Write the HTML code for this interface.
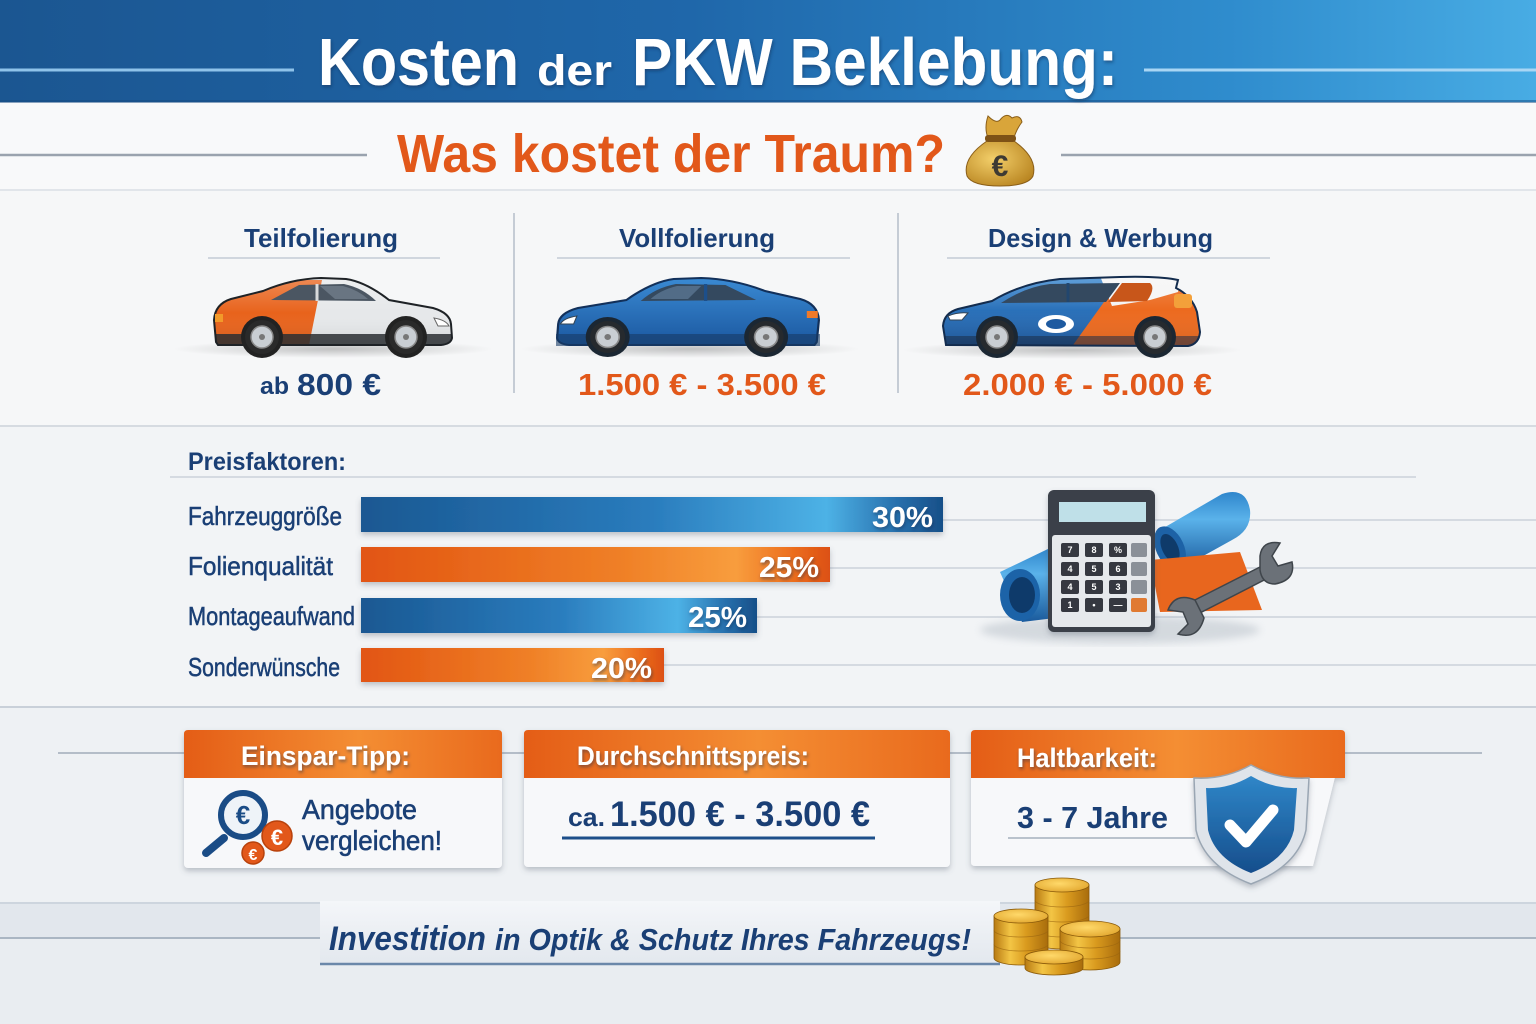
<!DOCTYPE html>
<html><head><meta charset="utf-8">
<style>html,body{margin:0;padding:0;background:#f1f3f6;}svg{display:block}</style>
</head><body>
<svg width="1536" height="1024" viewBox="0 0 1536 1024" xmlns="http://www.w3.org/2000/svg" font-family="'Liberation Sans', sans-serif">
<defs>
<linearGradient id="hdr" x1="0" y1="0" x2="1" y2="0">
 <stop offset="0" stop-color="#1b5691"/><stop offset="0.45" stop-color="#1f67aa"/>
 <stop offset="0.8" stop-color="#2f8ccd"/><stop offset="1" stop-color="#48ace4"/>
</linearGradient>
<linearGradient id="bgv" x1="0" y1="0" x2="0" y2="1">
 <stop offset="0" stop-color="#f7f8fa"/><stop offset="1" stop-color="#eceff3"/>
</linearGradient>
<linearGradient id="bb" x1="0" y1="0" x2="1" y2="0">
 <stop offset="0" stop-color="#1a5892"/><stop offset="0.5" stop-color="#2a7cbd"/>
 <stop offset="0.8" stop-color="#4db2e6"/><stop offset="0.92" stop-color="#2870ad"/>
 <stop offset="1" stop-color="#174f88"/>
</linearGradient>
<linearGradient id="ob" x1="0" y1="0" x2="1" y2="0">
 <stop offset="0" stop-color="#e25512"/><stop offset="0.55" stop-color="#ef7f26"/>
 <stop offset="0.8" stop-color="#f89d3d"/><stop offset="0.92" stop-color="#ec6e1f"/>
 <stop offset="1" stop-color="#dc5012"/>
</linearGradient>
<linearGradient id="oh" x1="0" y1="0" x2="1" y2="0">
 <stop offset="0" stop-color="#e45d16"/><stop offset="0.55" stop-color="#f48e33"/>
 <stop offset="1" stop-color="#e96a1d"/>
</linearGradient>
<linearGradient id="shine" x1="0" y1="0" x2="0" y2="1">
 <stop offset="0" stop-color="#fff" stop-opacity="0.25"/><stop offset="0.5" stop-color="#fff" stop-opacity="0"/>
 <stop offset="1" stop-color="#000" stop-opacity="0.12"/>
</linearGradient>
<linearGradient id="carblue" x1="0" y1="0" x2="0" y2="1">
 <stop offset="0" stop-color="#3a8ad3"/><stop offset="1" stop-color="#1b58a0"/>
</linearGradient>
<linearGradient id="gold" x1="0" y1="0" x2="1" y2="0">
 <stop offset="0" stop-color="#b87a12"/><stop offset="0.3" stop-color="#f3c545"/>
 <stop offset="0.6" stop-color="#d99a1e"/><stop offset="1" stop-color="#a86c0c"/>
</linearGradient>
<radialGradient id="goldtop" cx="0.45" cy="0.4" r="0.7">
 <stop offset="0" stop-color="#ffd96a"/><stop offset="1" stop-color="#e0a32a"/>
</radialGradient>
<radialGradient id="bag" cx="0.4" cy="0.4" r="0.7">
 <stop offset="0" stop-color="#f3cf6a"/><stop offset="1" stop-color="#b88420"/>
</radialGradient>
<radialGradient id="carsh" cx="0.5" cy="0.5" r="0.5">
 <stop offset="0" stop-color="#000" stop-opacity="0.22"/><stop offset="1" stop-color="#000" stop-opacity="0"/>
</radialGradient>
<linearGradient id="shieldb" x1="0" y1="0" x2="0" y2="1">
 <stop offset="0" stop-color="#2f86c8"/><stop offset="1" stop-color="#164e8c"/>
</linearGradient>
<linearGradient id="roll" x1="0" y1="0" x2="0" y2="1">
 <stop offset="0" stop-color="#2f86cc"/><stop offset="0.35" stop-color="#5ab2ea"/><stop offset="1" stop-color="#1a5a9c"/>
</linearGradient>
<linearGradient id="banner" x1="0" y1="0" x2="0" y2="1">
 <stop offset="0" stop-color="#f4f6f9"/><stop offset="1" stop-color="#e3e8ee"/>
</linearGradient>
<filter id="ds" x="-10%" y="-10%" width="120%" height="130%">
 <feDropShadow dx="0" dy="3" stdDeviation="3" flood-color="#536070" flood-opacity="0.35"/>
</filter>
<filter id="ts" x="-5%" y="-20%" width="110%" height="150%">
 <feDropShadow dx="1" dy="2" stdDeviation="1.5" flood-color="#0a2a50" flood-opacity="0.5"/>
</filter>
<filter id="blur4"><feGaussianBlur stdDeviation="4"/></filter>
<clipPath id="c1"><path d="M216,342 L214,320 Q215,304 231,299 L263,291 Q291,279 321,278 L346,279 Q366,282 389,300 L433,308 Q450,313 451,324 L452,338 Q451,344 441,345 L218,345 Z"/></clipPath>
<clipPath id="c3"><path d="M946,345 L943,326 Q944,313 958,309 L992,301 Q1022,283 1060,279 L1120,277 Q1160,276 1178,280 L1176,288 Q1192,296 1197,312 L1200,332 Q1199,344 1188,346 Z"/></clipPath>
</defs>

<!-- backgrounds -->
<rect width="1536" height="1024" fill="url(#bgv)"/>
<rect y="102" width="1536" height="88" fill="#f8f9fa"/>
<rect y="190" width="1536" height="236" fill="#f6f7f8"/>
<rect y="426" width="1536" height="281" fill="#f2f4f6"/>
<rect y="707" width="1536" height="196" fill="#eef1f4"/>
<rect y="903" width="1536" height="35" fill="#e2e7ed"/>
<rect y="938" width="1536" height="86" fill="#e9edf1"/>
<line x1="0" y1="903" x2="1536" y2="903" stroke="#cdd5de" stroke-width="2"/>
<line x1="0" y1="938" x2="1536" y2="938" stroke="#aab6c3" stroke-width="2"/>

<!-- header -->
<rect width="1536" height="102" fill="url(#hdr)"/>
<rect y="100" width="1536" height="3" fill="#164a80" opacity="0.5"/>
<line x1="0" y1="70" x2="294" y2="70" stroke="#8fc3ea" stroke-width="3"/>
<line x1="1144" y1="70" x2="1536" y2="70" stroke="#a9d6f4" stroke-width="3"/>
<g fill="#fff" font-weight="bold" filter="url(#ts)">
<text x="318" y="85" font-size="67" textLength="201" lengthAdjust="spacingAndGlyphs">Kosten</text>
<text x="537" y="85" font-size="43" textLength="75" lengthAdjust="spacingAndGlyphs">der</text>
<text x="632" y="85" font-size="67" textLength="486" lengthAdjust="spacingAndGlyphs">PKW Beklebung:</text>
</g>

<!-- subtitle -->
<line x1="0" y1="155" x2="367" y2="155" stroke="#9aa3ae" stroke-width="2.5"/>
<line x1="1061" y1="155" x2="1536" y2="155" stroke="#9aa3ae" stroke-width="2.5"/>
<text x="397" y="172" font-size="54" font-weight="bold" fill="#e2581a" textLength="548" lengthAdjust="spacingAndGlyphs">Was kostet der Traum?</text>
<!-- money bag -->
<g>
 <path d="M988,116 Q996,124 1000,120 Q1006,112 1012,118 Q1020,114 1022,122 Q1016,130 1014,138 L988,138 Q984,128 988,116 Z" fill="#d9a53a" stroke="#8a5e18" stroke-width="1"/>
 <path d="M987,141 Q962,158 967,176 Q972,186 1000,186 Q1028,186 1033,176 Q1038,158 1014,141 Z" fill="url(#bag)" stroke="#8a5e18" stroke-width="1"/>
 <rect x="985" y="135" width="31" height="7" rx="3" fill="#7e5216"/>
 <text x="1000" y="176" font-size="30" font-weight="bold" fill="#3d3a33" text-anchor="middle">€</text>
</g>
<line x1="0" y1="190" x2="1536" y2="190" stroke="#e1e5ea" stroke-width="2"/>

<!-- column headers -->
<g font-weight="bold" fill="#1a3f75" font-size="26">
<text x="244" y="247" textLength="154" lengthAdjust="spacingAndGlyphs">Teilfolierung</text>
<text x="619" y="247" textLength="156" lengthAdjust="spacingAndGlyphs">Vollfolierung</text>
<text x="988" y="247" textLength="225" lengthAdjust="spacingAndGlyphs">Design &amp; Werbung</text>
</g>
<g stroke="#d0d6de" stroke-width="2">
<line x1="208" y1="258" x2="440" y2="258"/>
<line x1="557" y1="258" x2="850" y2="258"/>
<line x1="947" y1="258" x2="1270" y2="258"/>
</g>
<line x1="514" y1="213" x2="514" y2="393" stroke="#c5ccd5" stroke-width="2"/>
<line x1="898" y1="213" x2="898" y2="393" stroke="#c5ccd5" stroke-width="2"/>

<!-- car 1 -->
<ellipse cx="333" cy="349" rx="160" ry="9" fill="url(#carsh)"/>
<g>
 <path d="M216,342 L214,320 Q215,304 231,299 L263,291 Q291,279 321,278 L346,279 Q366,282 389,300 L433,308 Q450,313 451,324 L452,338 Q451,344 441,345 L218,345 Z" fill="#e6e8ea"/>
 <g clip-path="url(#c1)">
  <polygon points="200,280 322,280 308,350 200,350" fill="#e8631c"/>
  <rect x="200" y="278" width="260" height="70" fill="url(#shine)"/>
  <rect x="200" y="334" width="260" height="14" fill="#2c2f33" opacity="0.85"/>
 </g>
 <path d="M216,342 L214,320 Q215,304 231,299 L263,291 Q291,279 321,278 L346,279 Q366,282 389,300 L433,308 Q450,313 451,324 L452,338 Q451,344 441,345 L218,345 Z" fill="none" stroke="#1e2226" stroke-width="2"/>
 <path d="M271,300 L299,285 L344,284 Q363,288 376,301 Z" fill="#4b5662"/>
 <line x1="317" y1="284" x2="317" y2="301" stroke="#d8dadc" stroke-width="3"/>
 <path d="M320,286 L343,286 Q358,290 368,299 L335,299 Z" fill="#7d8b98" opacity="0.6"/>
 <path d="M434,318 Q446,320 449,326 L438,326 Z" fill="#fff" stroke="#666" stroke-width="1"/>
 <rect x="215" y="314" width="8" height="8" fill="#f29a2a"/>
 <g>
  <circle cx="262" cy="337" r="21" fill="#222"/><circle cx="262" cy="337" r="17" fill="#2a2a2a"/>
  <circle cx="262" cy="337" r="11" fill="#c9ced3" stroke="#888" stroke-width="1.5"/><circle cx="262" cy="337" r="3" fill="#777"/>
  <circle cx="406" cy="337" r="21" fill="#222"/><circle cx="406" cy="337" r="17" fill="#2a2a2a"/>
  <circle cx="406" cy="337" r="11" fill="#c9ced3" stroke="#888" stroke-width="1.5"/><circle cx="406" cy="337" r="3" fill="#777"/>
 </g>
</g>

<!-- car 2 -->
<ellipse cx="690" cy="349" rx="170" ry="9" fill="url(#carsh)"/>
<g transform="translate(820,278) scale(-1.1,1)">
 <path d="M3,64 L1,42 Q2,26 18,21 L50,13 Q78,1 108,0 L133,1 Q153,4 176,22 L220,30 Q237,35 238,46 L239,60 Q238,66 228,67 L5,67 Z" fill="url(#carblue)" stroke="#12305a" stroke-width="2"/>
 <path d="M58,22 L86,7 L131,6 Q150,10 163,23 Z" fill="#34495f"/>
 <line x1="104" y1="6" x2="104" y2="23" stroke="#1d4f8a" stroke-width="3"/>
 <path d="M108,8 L130,8 Q145,12 154,21 L120,21 Z" fill="#6f8fb0" opacity="0.5"/>
 <path d="M221,38 Q233,40 236,46 L224,46 Z" fill="#fff" stroke="#345" stroke-width="1"/>
 <rect x="2" y="33" width="10" height="7" fill="#f07a2a"/>
 <rect x="0" y="56" width="240" height="12" fill="#173a66" opacity="0.6"/>
 <circle cx="49" cy="59" r="20" fill="#1b2733"/><circle cx="49" cy="59" r="16" fill="#262a2e"/>
 <circle cx="49" cy="59" r="10.5" fill="#c9ced3" stroke="#888" stroke-width="1.5"/><circle cx="49" cy="59" r="3" fill="#777"/>
 <circle cx="193" cy="59" r="20" fill="#1b2733"/><circle cx="193" cy="59" r="16" fill="#262a2e"/>
 <circle cx="193" cy="59" r="10.5" fill="#c9ced3" stroke="#888" stroke-width="1.5"/><circle cx="193" cy="59" r="3" fill="#777"/>
</g>

<!-- car 3 -->
<ellipse cx="1072" cy="350" rx="170" ry="9" fill="url(#carsh)"/>
<g>
 <g clip-path="url(#c3)">
  <rect x="940" y="270" width="270" height="80" fill="url(#carblue)"/>
  <polygon points="1127,270 1212,270 1212,352 1068,352" fill="#ec6a1f"/>
  <polygon points="1100,276 1182,276 1178,292 1150,300 1112,306" fill="#f5f5f5"/>
  <rect x="940" y="270" width="270" height="80" fill="url(#shine)"/>
  <rect x="940" y="336" width="270" height="14" fill="#1c2e48" opacity="0.55"/>
 </g>
 <path d="M946,345 L943,326 Q944,313 958,309 L992,301 Q1022,283 1060,279 L1120,277 Q1160,276 1178,280 L1176,288 Q1192,296 1197,312 L1200,332 Q1199,344 1188,346 Z" fill="none" stroke="#132c4e" stroke-width="2"/>
 <path d="M1001,303 Q1025,287 1050,284 L1120,283 L1106,302 Z" fill="#34495f"/>
 <path d="M1122,283 L1150,283 Q1156,288 1147,301 L1108,302 Z" fill="#c8561a"/>
 <line x1="1068" y1="283" x2="1068" y2="302" stroke="#22466e" stroke-width="3"/>
 <path d="M948,316 Q958,312 968,313 L962,320 L950,320 Z" fill="#fff" stroke="#345" stroke-width="1"/>
 <rect x="1174" y="294" width="18" height="14" rx="3" fill="#f3a03a"/>
 <ellipse cx="1056" cy="324" rx="18" ry="9" fill="#fff"/>
 <ellipse cx="1056" cy="324" rx="10" ry="5" fill="#1e5aa0"/>
 <circle cx="997" cy="337" r="21" fill="#1b2733"/><circle cx="997" cy="337" r="17" fill="#262a2e"/>
 <circle cx="997" cy="337" r="11" fill="#c9ced3" stroke="#888" stroke-width="1.5"/><circle cx="997" cy="337" r="3" fill="#777"/>
 <circle cx="1155" cy="337" r="21" fill="#1b2733"/><circle cx="1155" cy="337" r="17" fill="#262a2e"/>
 <circle cx="1155" cy="337" r="11" fill="#c9ced3" stroke="#888" stroke-width="1.5"/><circle cx="1155" cy="337" r="3" fill="#777"/>
</g>

<!-- prices -->
<g font-weight="bold">
<text x="260" y="394" font-size="24" fill="#1a3f75" textLength="29" lengthAdjust="spacingAndGlyphs">ab</text>
<text x="297" y="395" font-size="31" fill="#1a3f75" textLength="84" lengthAdjust="spacingAndGlyphs">800 €</text>
<text x="578" y="395" font-size="31" fill="#e2581a" textLength="248" lengthAdjust="spacingAndGlyphs">1.500 € - 3.500 €</text>
<text x="963" y="395" font-size="31" fill="#e2581a" textLength="249" lengthAdjust="spacingAndGlyphs">2.000 € - 5.000 €</text>
</g>
<line x1="0" y1="426" x2="1536" y2="426" stroke="#d6dbe1" stroke-width="2"/>

<!-- Preisfaktoren -->
<text x="188" y="470" font-size="25" font-weight="bold" fill="#1a3f75" textLength="158" lengthAdjust="spacingAndGlyphs">Preisfaktoren:</text>
<g stroke="#d5dae1" stroke-width="2">
<line x1="170" y1="477" x2="1416" y2="477"/>
<line x1="943" y1="520" x2="1536" y2="520"/>
<line x1="830" y1="568" x2="1536" y2="568"/>
<line x1="757" y1="617" x2="1536" y2="617"/>
<line x1="664" y1="665" x2="1536" y2="665"/>
<line x1="0" y1="707" x2="1536" y2="707" stroke="#c9d0d9"/>
</g>
<g fill="#1a3f75" font-size="26" stroke="#1a3f75" stroke-width="0.5">
<text x="188" y="525" textLength="154" lengthAdjust="spacingAndGlyphs">Fahrzeuggröße</text>
<text x="188" y="575" textLength="145" lengthAdjust="spacingAndGlyphs">Folienqualität</text>
<text x="188" y="625" textLength="167" lengthAdjust="spacingAndGlyphs">Montageaufwand</text>
<text x="188" y="676" textLength="152" lengthAdjust="spacingAndGlyphs">Sonderwünsche</text>
</g>
<g filter="url(#ds)">
<rect x="361" y="497" width="582" height="35" fill="url(#bb)"/>
<rect x="361" y="547" width="469" height="35" fill="url(#ob)"/>
<rect x="361" y="598" width="396" height="35" fill="url(#bb)"/>
<rect x="361" y="648" width="303" height="34" fill="url(#ob)"/>
</g>
<g fill="#fff" font-weight="bold" font-size="29" filter="url(#ts)">
<text x="872" y="527" textLength="61" lengthAdjust="spacingAndGlyphs">30%</text>
<text x="759" y="577" textLength="60" lengthAdjust="spacingAndGlyphs">25%</text>
<text x="688" y="627" textLength="59" lengthAdjust="spacingAndGlyphs">25%</text>
<text x="591" y="678" textLength="61" lengthAdjust="spacingAndGlyphs">20%</text>
</g>

<!-- tools icon -->
<ellipse cx="1120" cy="630" rx="140" ry="14" fill="#7c8a99" opacity="0.25" filter="url(#blur4)"/>
<!-- right roll -->
<g>
 <path d="M1160,530 L1222,494 Q1246,486 1250,510 Q1252,530 1232,540 L1178,570 Z" fill="url(#roll)"/>
 <ellipse cx="1170" cy="548" rx="14" ry="23" fill="#1d62a6" transform="rotate(-25 1170 548)"/>
 <ellipse cx="1170" cy="548" rx="8" ry="15" fill="#0f3b6a" transform="rotate(-25 1170 548)"/>
</g>
<!-- orange sheet -->
<polygon points="1150,560 1240,552 1262,610 1160,612" fill="#e8661e"/>
<!-- left roll -->
<g>
 <path d="M1000,572 L1050,548 L1055,618 L1022,622 Z" fill="url(#roll)"/>
 <ellipse cx="1020" cy="595" rx="20" ry="26" fill="#1c63a8"/>
 <ellipse cx="1022" cy="595" rx="13" ry="18" fill="#0e3a6a"/>
</g>
<!-- calculator -->
<g filter="url(#ds)">
 <rect x="1048" y="490" width="107" height="142" rx="6" fill="#3a4048"/>
 <rect x="1052" y="535" width="99" height="92" rx="3" fill="#e6e9ec"/>
 <rect x="1059" y="502" width="87" height="20" fill="#bfe0e8"/>
 <g fill="#34393f">
  <rect x="1061" y="543" width="18" height="14" rx="2"/><rect x="1085" y="543" width="18" height="14" rx="2"/><rect x="1109" y="543" width="18" height="14" rx="2"/><rect x="1131" y="543" width="16" height="14" rx="2" fill="#8a9098"/>
  <rect x="1061" y="562" width="18" height="14" rx="2"/><rect x="1085" y="562" width="18" height="14" rx="2"/><rect x="1109" y="562" width="18" height="14" rx="2"/><rect x="1131" y="562" width="16" height="14" rx="2" fill="#8a9098"/>
  <rect x="1061" y="580" width="18" height="14" rx="2"/><rect x="1085" y="580" width="18" height="14" rx="2"/><rect x="1109" y="580" width="18" height="14" rx="2"/><rect x="1131" y="580" width="16" height="14" rx="2" fill="#8a9098"/>
  <rect x="1061" y="598" width="18" height="14" rx="2"/><rect x="1085" y="598" width="18" height="14" rx="2"/><rect x="1109" y="598" width="18" height="14" rx="2"/><rect x="1131" y="598" width="16" height="14" rx="2" fill="#e07a30"/>
 </g>
 <g fill="#fff" font-size="9" font-weight="bold" text-anchor="middle">
  <text x="1070" y="553">7</text><text x="1094" y="553">8</text><text x="1118" y="553">%</text>
  <text x="1070" y="572">4</text><text x="1094" y="572">5</text><text x="1118" y="572">6</text>
  <text x="1070" y="590">4</text><text x="1094" y="590">5</text><text x="1118" y="590">3</text>
  <text x="1070" y="608">1</text><text x="1094" y="608">•</text><text x="1118" y="608">—</text>
 </g>
</g>
<!-- wrench -->
<g fill="#6b7178" stroke="#3f454b" stroke-width="1.5">
 <path d="M1185,605 L1262,566 L1268,578 L1192,617 Z"/>
 <path d="M1260,556 Q1262,540 1280,543 L1272,556 L1278,566 L1292,562 Q1296,580 1275,584 Q1262,584 1260,570 Z"/>
 <path d="M1195,600 Q1175,592 1168,610 L1183,612 L1188,624 L1178,634 Q1198,640 1204,618 Z"/>
</g>

<!-- bottom boxes -->
<line x1="58" y1="753" x2="1482" y2="753" stroke="#b4bdc8" stroke-width="2"/>
<g filter="url(#ds)">
 <rect x="184" y="730" width="318" height="138" rx="4" fill="#f7f8fa"/>
 <rect x="524" y="730" width="426" height="137" rx="4" fill="#f7f8fa"/>
 <path d="M975,730 L1341,730 Q1345,730 1345,734 L1345,777 L1335,777 L1313,866 L975,866 Q971,866 971,862 L971,734 Q971,730 975,730 Z" fill="#f7f8fa"/>
</g>
<path d="M188,730 L498,730 Q502,730 502,734 L502,778 L184,778 L184,734 Q184,730 188,730 Z" fill="url(#oh)"/>
<path d="M528,730 L946,730 Q950,730 950,734 L950,778 L524,778 L524,734 Q524,730 528,730 Z" fill="url(#oh)"/>
<path d="M975,730 L1341,730 Q1345,730 1345,734 L1345,778 L971,778 L971,734 Q971,730 975,730 Z" fill="url(#oh)"/>
<g fill="#fff" font-weight="bold" font-size="27" filter="url(#ts)">
<text x="241" y="765" textLength="169" lengthAdjust="spacingAndGlyphs">Einspar-Tipp:</text>
<text x="577" y="765" textLength="232" lengthAdjust="spacingAndGlyphs">Durchschnittspreis:</text>
<text x="1017" y="767" textLength="140" lengthAdjust="spacingAndGlyphs">Haltbarkeit:</text>
</g>
<!-- magnifier -->
<line x1="224" y1="838" x2="206" y2="853" stroke="#1a4c86" stroke-width="8" stroke-linecap="round"/>
<circle cx="243" cy="815" r="22" fill="#eef3f8" stroke="#1a4c86" stroke-width="6"/>
<text x="243" y="824" font-size="26" font-weight="bold" fill="#1a4c86" text-anchor="middle">€</text>
<circle cx="277" cy="836" r="15" fill="#e2581a" stroke="#b8420c" stroke-width="1.5"/>
<text x="277" y="845" font-size="22" font-weight="bold" fill="#fff" text-anchor="middle">€</text>
<circle cx="253" cy="853" r="11" fill="#e2581a" stroke="#b8420c" stroke-width="1.5"/>
<text x="253" y="860" font-size="16" font-weight="bold" fill="#fff" text-anchor="middle">€</text>
<g fill="#1a3f75" font-size="28" stroke="#1a3f75" stroke-width="0.6">
<text x="302" y="819" textLength="115" lengthAdjust="spacingAndGlyphs">Angebote</text>
<text x="302" y="850" textLength="140" lengthAdjust="spacingAndGlyphs">vergleichen!</text>
</g>
<g fill="#1a3f75" font-weight="bold">
<text x="568" y="826" font-size="26" textLength="37" lengthAdjust="spacingAndGlyphs">ca.</text>
<text x="610" y="826" font-size="35" textLength="260" lengthAdjust="spacingAndGlyphs">1.500 € - 3.500 €</text>
<text x="1017" y="828" font-size="31" textLength="151" lengthAdjust="spacingAndGlyphs">3 - 7 Jahre</text>
</g>
<line x1="562" y1="838" x2="875" y2="838" stroke="#1d4f8a" stroke-width="3"/>
<line x1="1008" y1="838" x2="1195" y2="838" stroke="#b9c2cc" stroke-width="2"/>
<!-- shield -->
<g filter="url(#ds)">
 <path d="M1251,765 Q1224,780 1194,778 L1196,830 Q1204,866 1251,884 Q1298,866 1306,830 L1309,778 Q1278,780 1251,765 Z" fill="#dfe4ea" stroke="#9aa6b3" stroke-width="1.5"/>
 <path d="M1251,776 Q1229,789 1206,788 L1208,830 Q1215,859 1251,873 Q1287,859 1294,830 L1297,788 Q1273,789 1251,776 Z" fill="url(#shieldb)"/>
 <polyline points="1230,825 1246,842 1273,810" fill="none" stroke="#fff" stroke-width="11" stroke-linecap="round" stroke-linejoin="round"/>
</g>

<!-- footer -->
<line x1="0" y1="938" x2="298" y2="938" stroke="#aab6c3" stroke-width="2"/>
<rect x="320" y="901" width="680" height="63" fill="url(#banner)"/>
<line x1="320" y1="964" x2="1000" y2="964" stroke="#4c6f98" stroke-width="2.5" opacity="0.8"/>
<g fill="#1a3f75" font-style="italic">
<text x="329" y="950" font-size="34" font-weight="bold" textLength="157" lengthAdjust="spacingAndGlyphs">Investition</text>
<text x="495" y="950" font-size="31" font-weight="bold" textLength="476" lengthAdjust="spacingAndGlyphs">in Optik &amp; Schutz Ihres Fahrzeugs!</text>
</g>
<!-- coins -->
<g stroke="#8a5a0a" stroke-width="0.8">
 <!-- back tall stack -->
 <path d="M1035,885 L1035,942 A27,7 0 0 0 1089,942 L1089,885 Z" fill="url(#gold)"/>
 <g fill="none" stroke="#9a6510" opacity="0.7"><path d="M1035,900 A27,7 0 0 0 1089,900"/><path d="M1035,915 A27,7 0 0 0 1089,915"/><path d="M1035,930 A27,7 0 0 0 1089,930"/></g>
 <ellipse cx="1062" cy="885" rx="27" ry="7" fill="url(#goldtop)"/>
 <!-- left stack -->
 <path d="M994,916 L994,958 A27,7 0 0 0 1048,958 L1048,916 Z" fill="url(#gold)"/>
 <g fill="none" stroke="#9a6510" opacity="0.7"><path d="M994,930 A27,7 0 0 0 1048,930"/><path d="M994,944 A27,7 0 0 0 1048,944"/></g>
 <ellipse cx="1021" cy="916" rx="27" ry="7" fill="url(#goldtop)"/>
 <!-- right stack -->
 <path d="M1060,929 L1060,962 A30,8 0 0 0 1120,962 L1120,929 Z" fill="url(#gold)"/>
 <g fill="none" stroke="#9a6510" opacity="0.7"><path d="M1060,940 A30,8 0 0 0 1120,940"/><path d="M1060,951 A30,8 0 0 0 1120,951"/></g>
 <ellipse cx="1090" cy="929" rx="30" ry="8" fill="url(#goldtop)"/>
 <!-- front coin -->
 <path d="M1025,957 L1025,968 A29,7 0 0 0 1083,968 L1083,957 Z" fill="url(#gold)"/>
 <ellipse cx="1054" cy="957" rx="29" ry="7" fill="url(#goldtop)"/>
</g>
<line x1="1145" y1="938" x2="1536" y2="938" stroke="#aab6c3" stroke-width="2"/>
</svg>
</body></html>
